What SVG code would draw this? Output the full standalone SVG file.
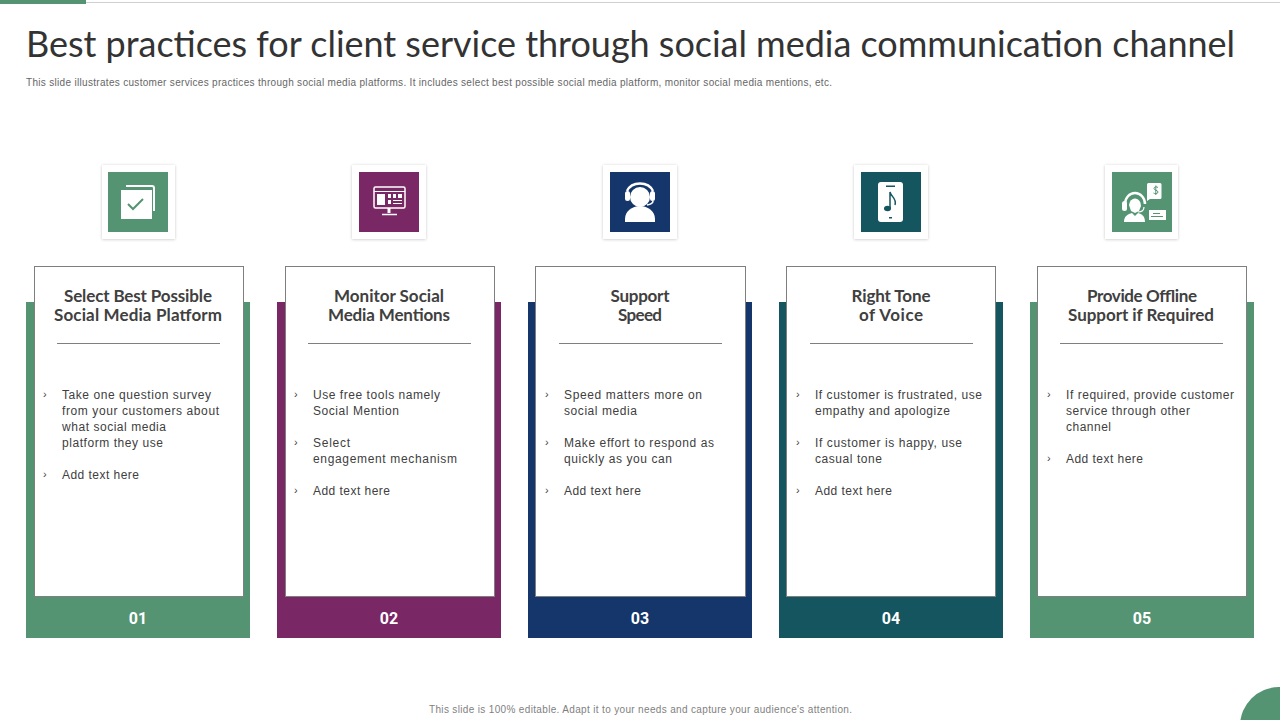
<svg xmlns="http://www.w3.org/2000/svg" width="1280" height="720" viewBox="0 0 1280 720">
<style>
.t{font-family:"Lato","Open Sans",sans-serif;fill:#333;font-size:36px}
.s{font-family:"Liberation Sans",Arial,sans-serif;font-size:10px;fill:#666}
.f{font-family:"Liberation Sans",Arial,sans-serif;font-size:10px;fill:#7f7f7f}
.h{font-family:"Lato","Open Sans",sans-serif;font-weight:700;font-size:17px;fill:#404040;text-anchor:middle}
.b{font-family:"Liberation Sans",Arial,sans-serif;font-size:12px;fill:#404040}
.c{font-family:"Liberation Sans",Arial,sans-serif;font-size:11px;fill:#404040}
.n{font-family:"Roboto","Open Sans",sans-serif;font-weight:700;font-size:16px;fill:#fff;text-anchor:middle}
.card{fill:#fff;stroke:#7f7f7f;stroke-width:1}
.sep{stroke:#7f7f7f;stroke-width:1}
.tile{fill:#fff;filter:url(#sh)}
.g{fill:#559472}.p{fill:#7a2765}.v{fill:#14366b}.e{fill:#14555f}
.w{fill:#fff}
</style>
<defs>
<filter id="sh" x="-20%" y="-20%" width="140%" height="140%"><feDropShadow dx="0" dy="0.5" stdDeviation="1.5" flood-color="#000" flood-opacity="0.22"/></filter>
</defs>
<rect width="1280" height="720" fill="#fff"/>
<rect x="0" y="2" width="1280" height="1" fill="#d0d0d0"/>
<rect x="0" y="0" width="86" height="4" class="g"/>
<circle cx="1279" cy="726" r="39" class="g"/>
<text class="t" x="26" y="57" textLength="1209" lengthAdjust="spacing">Best practices for client service through social media communication channel</text>
<text class="s" x="26" y="86" textLength="806" lengthAdjust="spacing">This slide illustrates customer services practices through social media platforms. It includes select best possible social media platform, monitor social media mentions, etc.</text>

<g id="node-1">
<rect x="26" y="302" width="224" height="336" class="g"/>
<rect x="34.500" y="266.500" width="209" height="330" class="card"/>
<text class="h" x="138" y="302" textLength="148" lengthAdjust="spacing">Select Best Possible</text>
<text class="h" x="138" y="321" textLength="168" lengthAdjust="spacing">Social Media Platform</text>
<line x1="57" x2="220" y1="343.500" y2="343.500" class="sep"/>
<text class="c" x="43" y="398">›</text><text class="b" x="62" y="399" textLength="149" lengthAdjust="spacing">Take one question survey</text>
<text class="b" x="62" y="415" textLength="157" lengthAdjust="spacing">from your customers about</text>
<text class="b" x="62" y="431" textLength="104" lengthAdjust="spacing">what social media</text>
<text class="b" x="62" y="447" textLength="101" lengthAdjust="spacing">platform they use</text>
<text class="c" x="43" y="478">›</text><text class="b" x="62" y="479" textLength="77" lengthAdjust="spacing">Add text here</text>
<text class="n" x="138" y="624">01</text>
<rect x="102" y="165" width="73" height="74" class="tile"/>
<rect x="108" y="172" width="60" height="60" class="g"/>
<path d="M126 185h26a3 3 0 0 1 3 3v23h-2v-23a1 1 0 0 0-1-1h-26z" class="w"/>
<rect x="121" y="190" width="31" height="29" class="w"/>
<path d="M128 204l5 5 10-10" fill="none" stroke="#559472" stroke-width="2"/>
</g>

<g id="node-2">
<rect x="277" y="302" width="224" height="336" class="p"/>
<rect x="285.500" y="266.500" width="209" height="330" class="card"/>
<text class="h" x="389" y="302" textLength="110" lengthAdjust="spacing">Monitor Social</text>
<text class="h" x="389" y="321" textLength="122" lengthAdjust="spacing">Media Mentions</text>
<line x1="308" x2="471" y1="343.500" y2="343.500" class="sep"/>
<text class="c" x="294" y="398">›</text><text class="b" x="313" y="399" textLength="127" lengthAdjust="spacing">Use free tools namely</text>
<text class="b" x="313" y="415" textLength="86" lengthAdjust="spacing">Social Mention</text>
<text class="c" x="294" y="446">›</text><text class="b" x="313" y="447" textLength="37" lengthAdjust="spacing">Select</text>
<text class="b" x="313" y="463" textLength="144" lengthAdjust="spacing">engagement mechanism</text>
<text class="c" x="294" y="494">›</text><text class="b" x="313" y="495" textLength="77" lengthAdjust="spacing">Add text here</text>
<text class="n" x="389" y="624">02</text>
<rect x="352" y="165" width="74" height="74" class="tile"/>
<rect x="359" y="172" width="60" height="60" class="p"/>
<g fill="none" stroke="#fff">
<rect x="374" y="187" width="31" height="21" rx="1.500" stroke-width="1.500"/>
<line x1="374" x2="405" y1="191.500" y2="191.500"/>
<line x1="389" x2="389" y1="208" y2="213" stroke-width="3"/>
<line x1="382" x2="397" y1="214.500" y2="214.500" stroke-width="1.500"/>
</g>
<g fill="#fff">
<rect x="377" y="194" width="8" height="11"/>
<rect x="388" y="194" width="3" height="4"/><rect x="393" y="194" width="3" height="4"/><rect x="398" y="194" width="4" height="4"/>
<rect x="388" y="200" width="3" height="4"/><rect x="393" y="200" width="9" height="1"/><rect x="393" y="203" width="9" height="1"/>
</g>
</g>

<g id="node-3">
<rect x="528" y="302" width="224" height="336" class="v"/>
<rect x="535.500" y="266.500" width="210" height="330" class="card"/>
<text class="h" x="640" y="302" textLength="59" lengthAdjust="spacing">Support</text>
<text class="h" x="640" y="321" textLength="44" lengthAdjust="spacing">Speed</text>
<line x1="559" x2="722" y1="343.500" y2="343.500" class="sep"/>
<text class="c" x="545" y="398">›</text><text class="b" x="564" y="399" textLength="138" lengthAdjust="spacing">Speed matters more on</text>
<text class="b" x="564" y="415" textLength="73" lengthAdjust="spacing">social media</text>
<text class="c" x="545" y="446">›</text><text class="b" x="564" y="447" textLength="150" lengthAdjust="spacing">Make effort to respond as</text>
<text class="b" x="564" y="463" textLength="108" lengthAdjust="spacing">quickly as you can</text>
<text class="c" x="545" y="494">›</text><text class="b" x="564" y="495" textLength="77" lengthAdjust="spacing">Add text here</text>
<text class="n" x="640" y="624">03</text>
<rect x="603" y="165" width="74" height="74" class="tile"/>
<rect x="610" y="172" width="60" height="60" class="v"/>
<circle cx="640" cy="197" r="10" class="w"/>
<path d="M625 222v-3a15 13 0 0 1 30 0v3z" class="w"/>
<path d="M627 191a14 12 0 0 1 26 0" fill="none" stroke="#fff" stroke-width="2.500"/>
<rect x="625" y="191" width="5" height="10" rx="2.500" class="w"/>
<rect x="650" y="191" width="5" height="10" rx="2.500" class="w"/>
<path d="M653 201q0 3-6 4" fill="none" stroke="#fff" stroke-width="1.500"/>
</g>

<g id="node-4">
<rect x="779" y="302" width="224" height="336" class="e"/>
<rect x="786.500" y="266.500" width="209" height="330" class="card"/>
<text class="h" x="891" y="302" textLength="79" lengthAdjust="spacing">Right Tone</text>
<text class="h" x="891" y="321" textLength="64" lengthAdjust="spacing">of Voice</text>
<line x1="810" x2="973" y1="343.500" y2="343.500" class="sep"/>
<text class="c" x="796" y="398">›</text><text class="b" x="815" y="399" textLength="167" lengthAdjust="spacing">If customer is frustrated, use</text>
<text class="b" x="815" y="415" textLength="135" lengthAdjust="spacing">empathy and apologize</text>
<text class="c" x="796" y="446">›</text><text class="b" x="815" y="447" textLength="147" lengthAdjust="spacing">If customer is happy, use</text>
<text class="b" x="815" y="463" textLength="67" lengthAdjust="spacing">casual tone</text>
<text class="c" x="796" y="494">›</text><text class="b" x="815" y="495" textLength="77" lengthAdjust="spacing">Add text here</text>
<text class="n" x="891" y="624">04</text>
<rect x="854" y="165" width="74" height="74" class="tile"/>
<rect x="861" y="172" width="60" height="60" class="e"/>
<rect x="878" y="182" width="25" height="40" rx="3" class="w"/>
<rect x="886" y="185.500" width="9" height="1.500" class="e"/>
<rect x="889" y="217" width="3" height="1.500" class="e"/>
<ellipse cx="887.500" cy="208.500" rx="3.500" ry="2.700" class="e"/>
<path d="M890 208v-16c1 5 7 6 5 13" fill="none" stroke="#14555f" stroke-width="1.500"/>
</g>

<g id="node-5">
<rect x="1030" y="302" width="224" height="336" class="g"/>
<rect x="1037.500" y="266.500" width="209" height="330" class="card"/>
<text class="h" x="1142" y="302" textLength="110" lengthAdjust="spacing">Provide Offline</text>
<text class="h" x="1141" y="321" textLength="146" lengthAdjust="spacing">Support if Required</text>
<line x1="1060" x2="1223" y1="343.500" y2="343.500" class="sep"/>
<text class="c" x="1047" y="398">›</text><text class="b" x="1066" y="399" textLength="168" lengthAdjust="spacing">If required, provide customer</text>
<text class="b" x="1066" y="415" textLength="124" lengthAdjust="spacing">service through other</text>
<text class="b" x="1066" y="431" textLength="45" lengthAdjust="spacing">channel</text>
<text class="c" x="1047" y="462">›</text><text class="b" x="1066" y="463" textLength="77" lengthAdjust="spacing">Add text here</text>
<text class="n" x="1142" y="624">05</text>
<rect x="1105" y="165" width="73" height="74" class="tile"/>
<rect x="1112" y="172" width="60" height="60" class="g"/>
<path d="M1148 183h12a1.500 1.500 0 0 1 1.500 1.500v13a1.500 1.500 0 0 1-1.500 1.500h-10l-3 2v-16.500a1.500 1.500 0 0 1 1.500-1.500z" class="w"/>
<path d="M1158 187.500c-1-1-4-1-4 1s4 1.500 4 3.500-3.500 2-4.500 1M1155.800 185.500v9.500" fill="none" stroke="#559472" stroke-width="1"/>
<path d="M1149 210h17v10h-17z" class="w"/>
<rect x="1153" y="213" width="7" height="1" class="g"/><rect x="1151" y="216" width="12" height="1" class="g"/>
<path d="M1125 204a10 11 0 0 1 20 0" fill="none" stroke="#fff" stroke-width="2.500"/>
<rect x="1122" y="201" width="5" height="10" rx="2.500" class="w"/>
<path d="M1129 205a6 7 0 0 1 12 1l-2 5-4 2-4-2z" class="w"/>
<path d="M1124 222c0-6 4-8 8-9l3 3 3-3c4 1 7 3 7 9z" class="w"/>
<path d="M1144 207q0 5-6 5" fill="none" stroke="#fff" stroke-width="1.200"/>
</g>

<text class="f" x="429" y="713" textLength="423" lengthAdjust="spacing">This slide is 100% editable. Adapt it to your needs and capture your audience's attention.</text>
</svg>
